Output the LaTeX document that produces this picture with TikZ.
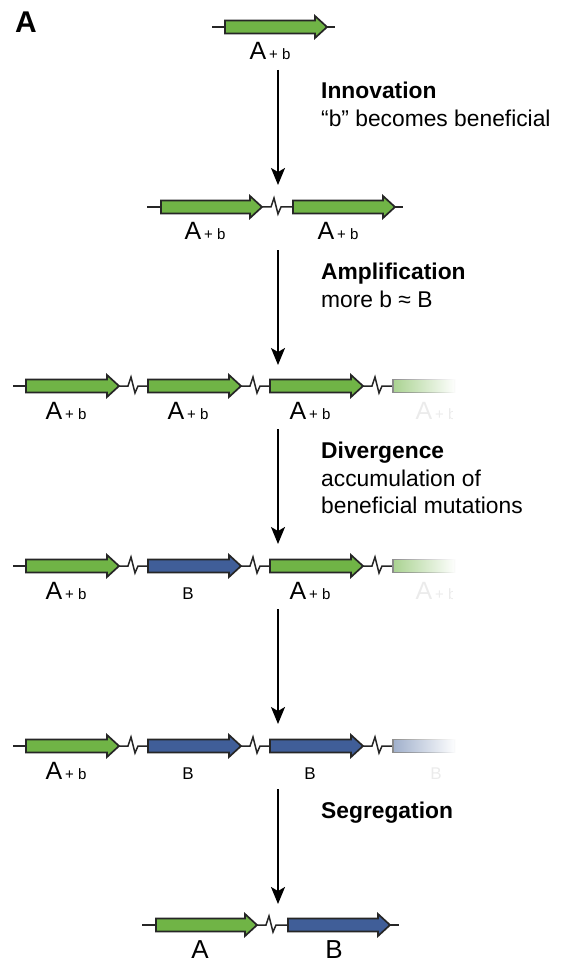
\documentclass[tikz,border=0pt]{standalone}
\usepackage{fontspec}
\setmainfont{Liberation Sans}
\usetikzlibrary{arrows.meta,fadings}
\definecolor{genegreen}{RGB}{112,180,70}
\definecolor{geneblue}{RGB}{64,94,152}
\tikzfading[name=ghostfade, left color=transparent!0, right color=transparent!100]
\tikzset{
  gene/.style={draw=black!85, line width=1.7pt, line join=miter},
  backbone/.style={draw=black!85, line width=1.5pt},
  flow/.style={line width=1.8pt, -{Stealth[length=17pt,width=14pt,inset=4pt]}},
  lab/.style={anchor=base, inner sep=0pt},
  note/.style={anchor=base west, inner sep=0pt, font=\fontsize{22.8}{28}\selectfont},
}
% gene arrow: x, y, length, colour
\newcommand{\gene}[4]{\filldraw[gene, fill=#4] (#1,#2-6.5) -- ++(#3-12,0) -- ++(0,-4.5) -- (#1+#3,#2) -- (#1+#3-12,#2+11) -- ++(0,-4.5) -- (#1,#2+6.5) -- cycle;}
% break in the backbone: from x, to x, at y
\newcommand{\brk}[3]{\draw[backbone] (#1,#3) -- ++(9,0) -- ++(3,-9) -- ++(4,16) -- ++(3,-7) -- (#2,#3);}
% fading copy at the end of a row: x, y, colour
\newcommand{\ghost}[3]{\path[fill=#3, draw=black!45, line width=1.5pt, path fading=ghostfade] (#1,#2-6.5) rectangle (#1+62,#2+6.5);}
\newcommand{\Ab}{{\fontsize{25}{25}\selectfont A}\kern3pt{\fontsize{15}{15}\selectfont + b}}
\newcommand{\Bsm}{{\fontsize{17}{17}\selectfont B}}
\begin{document}
\begin{tikzpicture}[x=1pt,y=-1pt]
\useasboundingbox (0,0) rectangle (570,968);
\node[anchor=base west, inner sep=0pt, font=\fontsize{30}{30}\selectfont\bfseries] (panel) at (15,33) {A};

% row 1
\draw[backbone] (212,27) -- (335,27);
\gene{225}{27}{102}{genegreen}
\node[lab] (r1a) at (270,60) {\Ab};

% row 2
\draw[backbone] (147,207) -- (161,207);
\draw[backbone] (395,207) -- (403,207);
\brk{262}{293}{207}
\gene{161}{207}{101}{genegreen}
\gene{293}{207}{102}{genegreen}
\node[lab] (r2a) at (205,240) {\Ab};
\node[lab] (r2b) at (338,240) {\Ab};

% row 3
\draw[backbone] (13,386) -- (26,386);
\brk{119}{148}{386}
\brk{241}{270}{386}
\brk{363}{393}{386}
\gene{26}{386}{93}{genegreen}
\gene{148}{386}{93}{genegreen}
\gene{270}{386}{93}{genegreen}
\ghost{393}{386}{genegreen!60}
\node[lab] (r3a) at (66,419) {\Ab};
\node[lab] (r3b) at (188,419) {\Ab};
\node[lab] (r3c) at (310,419) {\Ab};
\begin{scope}
\clip (390,395) rectangle (452,430);
\node[lab, text=black!8] (r3d) at (436,419) {\Ab};
\end{scope}

% row 4
\draw[backbone] (13,566) -- (26,566);
\brk{119}{148}{566}
\brk{241}{270}{566}
\brk{363}{393}{566}
\gene{26}{566}{93}{genegreen}
\gene{148}{566}{93}{geneblue}
\gene{270}{566}{93}{genegreen}
\ghost{393}{566}{genegreen!60}
\node[lab] (r4a) at (66,599) {\Ab};
\node[lab] (r4b) at (188,599) {\Bsm};
\node[lab] (r4c) at (310,599) {\Ab};
\begin{scope}
\clip (390,575) rectangle (452,610);
\node[lab, text=black!8] (r4d) at (436,599) {\Ab};
\end{scope}

% row 5
\draw[backbone] (13,746) -- (26,746);
\brk{119}{148}{746}
\brk{241}{270}{746}
\brk{363}{393}{746}
\gene{26}{746}{93}{genegreen}
\gene{148}{746}{93}{geneblue}
\gene{270}{746}{93}{geneblue}
\ghost{393}{746}{geneblue!50}
\node[lab] (r5a) at (66,779) {\Ab};
\node[lab] (r5b) at (188,779) {\Bsm};
\node[lab] (r5c) at (310,779) {\Bsm};
\begin{scope}
\clip (390,755) rectangle (452,790);
\node[lab, text=black!8] (r5d) at (436,779) {\Bsm};
\end{scope}

% row 6
\draw[backbone] (142,925) -- (156,925);
\draw[backbone] (390,925) -- (399,925);
\brk{257}{288}{925}
\gene{156}{925}{101}{genegreen}
\gene{288}{925}{102}{geneblue}
\node[lab, font=\fontsize{26}{26}\selectfont] (r6a) at (200,958) {A};
\node[lab, font=\fontsize{26}{26}\selectfont] (r6b) at (334,958) {B};

% steps
\foreach \i/\y in {1/27,2/207,3/386,4/566,5/746} {
  \coordinate (s\i) at (278,\y+43);
  \coordinate (e\i) at (278,\y+158);
  \draw[flow] (s\i) -- (e\i);
}

\node[note, font=\fontsize{22.8}{28}\selectfont\bfseries] (innov) at (321,99) {Innovation};
\node[note] (innovtxt) at (321,127) {“b” becomes beneficial};
\node[note, font=\fontsize{22.8}{28}\selectfont\bfseries] (ampl) at (321,279) {Amplification};
\node[note] (ampltxt) at (321,307) {more b ≈ B};
\node[note, font=\fontsize{22.8}{28}\selectfont\bfseries] (diver) at (321,458) {Divergence};
\node[note] (divertxt) at (321,486) {accumulation of};
\node[note] (divertxt2) at (321,513) {beneficial mutations};
\node[note, font=\fontsize{22.8}{28}\selectfont\bfseries] (segr) at (321,818) {Segregation};
\end{tikzpicture}
\end{document}
